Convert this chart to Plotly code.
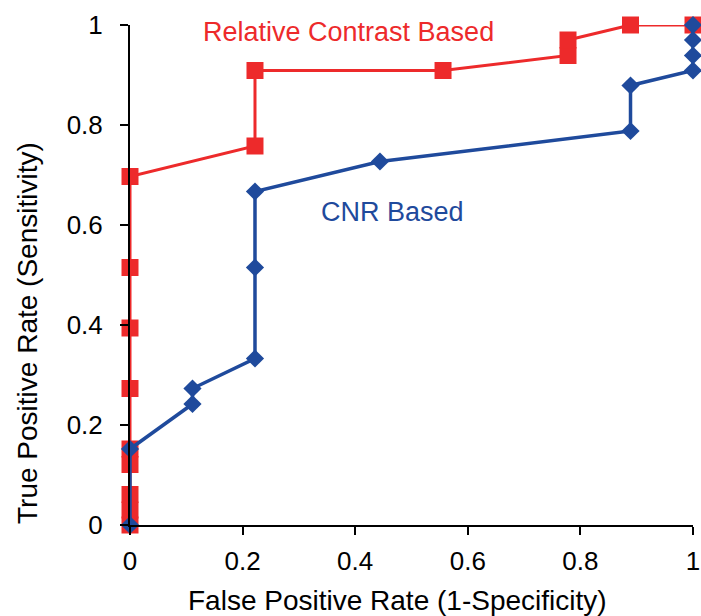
import plotly.graph_objects as go

# Relative Contrast Based ROC
rc_fpr = [0, 0, 0, 0, 0, 0, 0, 0, 0, 0.222, 0.222, 0.556, 0.778, 0.778, 0.889, 1.0]
rc_tpr = [0, 0.030, 0.061, 0.121, 0.152, 0.273, 0.394, 0.515, 0.697, 0.758, 0.909, 0.909, 0.939, 0.970, 1.0, 1.0]

# CNR Based ROC
cnr_fpr = [0, 0, 0.111, 0.111, 0.222, 0.222, 0.222, 0.444, 0.889, 0.889, 1.0, 1.0, 1.0, 1.0]
cnr_tpr = [0, 0.152, 0.242, 0.273, 0.333, 0.515, 0.667, 0.727, 0.788, 0.879, 0.909, 0.939, 0.970, 1.0]

x_ticks = [0, 0.2, 0.4, 0.6, 0.8, 1]
x_tick_text = ["0", "0.2", "0.4", "0.6", "0.8", "1"]
y_ticks = [0, 0.2, 0.4, 0.6, 0.8, 1]
y_tick_text = ["0", "0.2", "0.4", "0.6", "0.8", "1"]

x_title = "False Positive Rate (1-Specificity)"
y_title = "True Positive Rate (Sensitivity)"

RED = "#ED2A2B"
BLUE = "#1F4A9C"
FONT = "Liberation Sans, Arial, sans-serif"

fig = go.Figure()
fig.add_trace(go.Scatter(
    x=rc_fpr, y=rc_tpr, mode="lines+markers",
    line=dict(color=RED, width=3),
    marker=dict(symbol="square", size=17, color=RED),
    cliponaxis=False, showlegend=False))
fig.add_trace(go.Scatter(
    x=cnr_fpr, y=cnr_tpr, mode="lines+markers",
    line=dict(color=BLUE, width=3.5),
    marker=dict(symbol="diamond", size=14, color=BLUE),
    cliponaxis=False, showlegend=False))

fig.add_annotation(x=0.388, y=0.986, text="Relative Contrast Based", showarrow=False,
                   font=dict(family=FONT, size=27, color=RED), xref="x", yref="y")
fig.add_annotation(x=0.466, y=0.626, text="CNR Based", showarrow=False,
                   font=dict(family=FONT, size=27, color=BLUE), xref="x", yref="y")

# axis titles (placed as in the reference, slightly off-centre)
fig.add_annotation(x=0.476, y=-0.15, xref="paper", yref="paper", text=x_title,
                   showarrow=False, xanchor="center", yanchor="middle",
                   font=dict(family=FONT, size=28, color="black"))
fig.add_annotation(x=-0.183, y=0.384, xref="paper", yref="paper", text=y_title,
                   showarrow=False, xanchor="center", yanchor="middle", textangle=-90,
                   font=dict(family=FONT, size=28, color="black"))

axis_common = dict(
    showgrid=False, zeroline=False, showline=True, linecolor="black", linewidth=2,
    ticks="outside", ticklen=8, tickwidth=2, tickcolor="black",
    tickfont=dict(family=FONT, size=26, color="black"),
    automargin=False, ticklabeloverflow="allow",
)
fig.update_xaxes(range=[0, 1], tickvals=x_ticks, ticktext=x_tick_text, ticklabelstandoff=4,
                 **axis_common)
fig.update_yaxes(range=[0, 1], tickvals=y_ticks, ticktext=y_tick_text, ticklabelstandoff=12,
                 **axis_common)

fig.update_layout(
    width=701, height=616,
    margin=dict(l=130, r=8, t=25, b=91, pad=0, autoexpand=False),
    plot_bgcolor="white", paper_bgcolor="white",
)

# remove the default page margin so the figure fills the window exactly
fig.write_html("out.html",
               config={"displayModeBar": False},
               post_script="document.body.style.margin='0';document.body.style.overflow='hidden';")
